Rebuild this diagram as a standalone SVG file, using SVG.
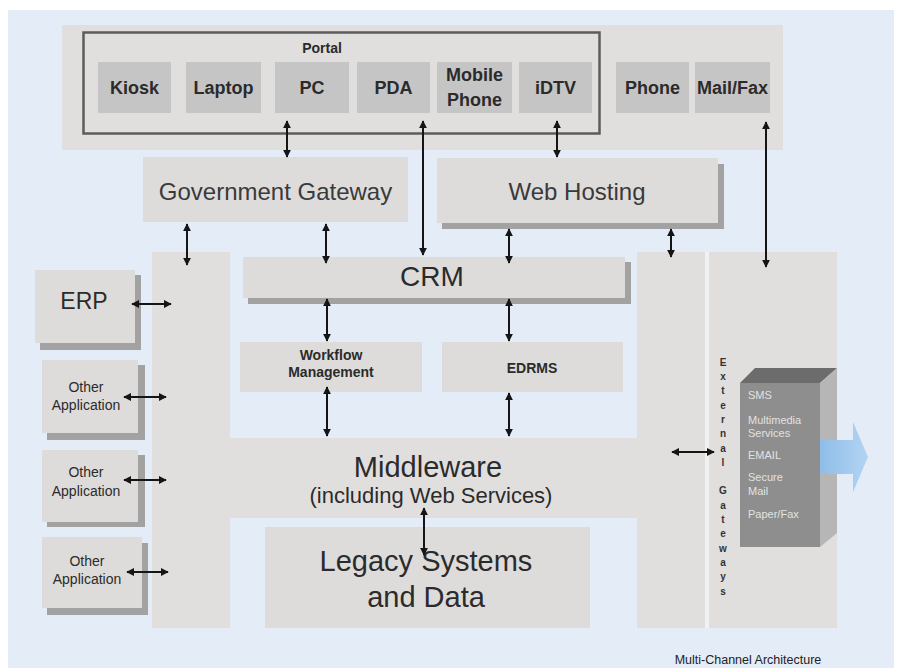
<svg xmlns="http://www.w3.org/2000/svg" width="901" height="668" viewBox="0 0 901 668">
<defs>
<marker id="ah" viewBox="0 0 10 10" refX="9" refY="5" markerWidth="8" markerHeight="8" markerUnits="userSpaceOnUse" orient="auto-start-reverse"><path d="M0,0 L10,5 L0,10 z" fill="#151515"/></marker>
<linearGradient id="bl" x1="0" y1="0" x2="1" y2="0"><stop offset="0" stop-color="#8fbde8"/><stop offset="1" stop-color="#b3d4f2"/></linearGradient>
</defs>
<style>
text{font-family:"Liberation Sans",Arial,sans-serif;fill:#2b2b2b}
.dev{fill:#c6c5c5}
.dl{font-size:18px;font-weight:bold;text-anchor:middle}
.band{fill:#e1dfdd}
.box{fill:#dedcda}
.sh{fill:#a2a2a2}
.c{text-anchor:middle}
.big{font-size:24px;fill:#3a3a3a}
.sm{font-size:14px;text-anchor:middle}
.smb{font-size:14px;font-weight:bold;text-anchor:middle}
.eg{font-size:10px;font-weight:bold;text-anchor:middle;fill:#333}
.bx{font-size:11px;fill:#e2e2e2}
.con line{stroke:#151515;stroke-width:2;marker-start:url(#ah);marker-end:url(#ah)}
</style>
<rect width="901" height="668" fill="#ffffff"/>
<rect x="8" y="10" width="886" height="658" fill="#e3ecf7"/>

<g id="channels">
<rect x="62" y="25" width="721" height="125" class="band"/>
</g>
<g id="portal">
<rect x="83.5" y="32.5" width="516" height="101" fill="none" stroke="#5c5c5c" stroke-width="2.5"/>
<text x="322" y="53" class="c" style="font-size:14px;font-weight:bold">Portal</text>
</g>
<g id="kiosk"><rect x="98" y="62" width="73" height="51" class="dev"/><text x="134.5" y="94" class="dl">Kiosk</text></g>
<g id="laptop"><rect x="186" y="62" width="75" height="51" class="dev"/><text x="223.5" y="94" class="dl">Laptop</text></g>
<g id="pc"><rect x="275" y="62" width="74" height="51" class="dev"/><text x="312" y="94" class="dl">PC</text></g>
<g id="pda"><rect x="357" y="62" width="73" height="51" class="dev"/><text x="393.5" y="94" class="dl">PDA</text></g>
<g id="mobile"><rect x="437" y="62" width="75" height="51" class="dev"/><text x="474.5" y="81" class="dl">Mobile</text><text x="474.5" y="106" class="dl">Phone</text></g>
<g id="idtv"><rect x="519" y="62" width="73" height="51" class="dev"/><text x="555.5" y="94" class="dl">iDTV</text></g>
<g id="phone"><rect x="616" y="62" width="73" height="51" class="dev"/><text x="652.5" y="94" class="dl">Phone</text></g>
<g id="mailfax"><rect x="695" y="62" width="75" height="51" class="dev"/><text x="732.5" y="94" class="dl">Mail/Fax</text></g>

<g id="gov-gateway"><rect x="143" y="157" width="265" height="65" class="box"/><text x="275.5" y="200" class="c big">Government Gateway</text></g>
<g id="web-hosting"><rect x="442" y="164" width="282" height="65" class="sh"/><rect x="437" y="158" width="281" height="65" class="box"/><text x="577" y="200" class="c big">Web Hosting</text></g>

<g id="middleware">
<path d="M152,252 H705 V628 H152 Z M230,252 H637 V438 H230 Z M230,518 H637 V628 H230 Z" fill="#e1dfdd" fill-rule="evenodd"/>
<text x="428" y="477" class="c" style="font-size:29px">Middleware</text>
<text x="431" y="503" class="c" style="font-size:22px">(including Web Services)</text>
</g>

<g id="external-gateways">
<rect x="705" y="252" width="4" height="376" fill="#eff1f3"/>
<rect x="709" y="252" width="128" height="376" fill="#e1dfdd"/>
<text class="eg"><tspan x="723" y="366">E</tspan><tspan x="723" y="380">x</tspan><tspan x="723" y="394">t</tspan><tspan x="723" y="409">e</tspan><tspan x="723" y="423">r</tspan><tspan x="723" y="437">n</tspan><tspan x="723" y="452">a</tspan><tspan x="723" y="466">l</tspan><tspan x="723" y="494">G</tspan><tspan x="723" y="509">a</tspan><tspan x="723" y="523">t</tspan><tspan x="723" y="537">e</tspan><tspan x="723" y="552">w</tspan><tspan x="723" y="566">a</tspan><tspan x="723" y="580">y</tspan><tspan x="723" y="595">s</tspan></text>
</g>

<g id="channels-box">
<polygon points="740,383 820,383 837,368 755,368" fill="#6c6c6c"/>
<polygon points="820,383 837,368 837,533 820,547" fill="#b6b6b6"/>
<rect x="740" y="383" width="80" height="164" fill="#8e8e8e"/>
<text class="bx"><tspan x="748" y="399">SMS</tspan><tspan x="748" y="424">Multimedia</tspan><tspan x="748" y="437">Services</tspan><tspan x="748" y="459">EMAIL</tspan><tspan x="748" y="481">Secure</tspan><tspan x="748" y="495">Mail</tspan><tspan x="748" y="518">Paper/Fax</tspan></text>
<polygon points="820,440 853,440 853,422 868,457 853,492 853,474 820,474" fill="url(#bl)"/>
</g>

<g id="crm"><rect x="248" y="262" width="383" height="42" class="sh"/><rect x="243" y="257" width="382" height="41" class="box"/><text x="432" y="286" class="c" style="font-size:28px">CRM</text></g>
<g id="workflow"><rect x="240" y="342" width="182" height="50" class="box"/><text x="331" y="360" class="smb">Workflow</text><text x="331" y="377" class="smb">Management</text></g>
<g id="edrms"><rect x="442" y="342" width="181" height="50" class="box"/><text x="532" y="373" class="smb">EDRMS</text></g>
<g id="legacy"><rect x="265" y="527" width="325" height="101" class="box"/><text x="426" y="571" class="c" style="font-size:29px">Legacy Systems</text><text x="426" y="607" class="c" style="font-size:29px">and Data</text></g>

<g id="erp"><rect x="40" y="275" width="101" height="75" class="sh"/><rect x="35" y="270" width="100" height="73" class="box"/><text x="84" y="309" class="c" style="font-size:23px">ERP</text></g>
<g id="app1"><rect x="47" y="365" width="98" height="75" class="sh"/><rect x="42" y="360" width="96" height="73" class="box"/><text x="86" y="392" class="sm">Other</text><text x="86" y="410" class="sm">Application</text></g>
<g id="app2"><rect x="47" y="455" width="98" height="72" class="sh"/><rect x="42" y="450" width="96" height="72" class="box"/><text x="86" y="477" class="sm">Other</text><text x="86" y="496" class="sm">Application</text></g>
<g id="app3"><rect x="47" y="543" width="101" height="72" class="sh"/><rect x="42" y="537" width="100" height="71" class="box"/><text x="87" y="566" class="sm">Other</text><text x="87" y="584" class="sm">Application</text></g>

<g id="caption"><text x="748" y="664" class="c" style="font-size:12.5px;fill:#222">Multi-Channel  Architecture</text></g>

<g id="connectors" class="con">
<line x1="287" y1="121" x2="287" y2="157"/>
<line x1="423" y1="121" x2="423" y2="255"/>
<line x1="557" y1="121" x2="557" y2="157"/>
<line x1="766" y1="122" x2="766" y2="267"/>
<line x1="187" y1="224" x2="187" y2="265"/>
<line x1="326" y1="224" x2="326" y2="263"/>
<line x1="509" y1="229" x2="509" y2="263"/>
<line x1="671" y1="229" x2="671" y2="257"/>
<line x1="327" y1="299" x2="327" y2="341"/>
<line x1="509" y1="299" x2="509" y2="341"/>
<line x1="327" y1="387" x2="327" y2="436"/>
<line x1="509" y1="393" x2="509" y2="436"/>
<line x1="424" y1="508" x2="424" y2="555"/>
<line x1="132" y1="304" x2="171" y2="304"/>
<line x1="124" y1="397" x2="166" y2="397"/>
<line x1="124" y1="480" x2="166" y2="480"/>
<line x1="127" y1="572" x2="168" y2="572"/>
<line x1="672" y1="452" x2="714" y2="452"/>
</g>
</svg>
